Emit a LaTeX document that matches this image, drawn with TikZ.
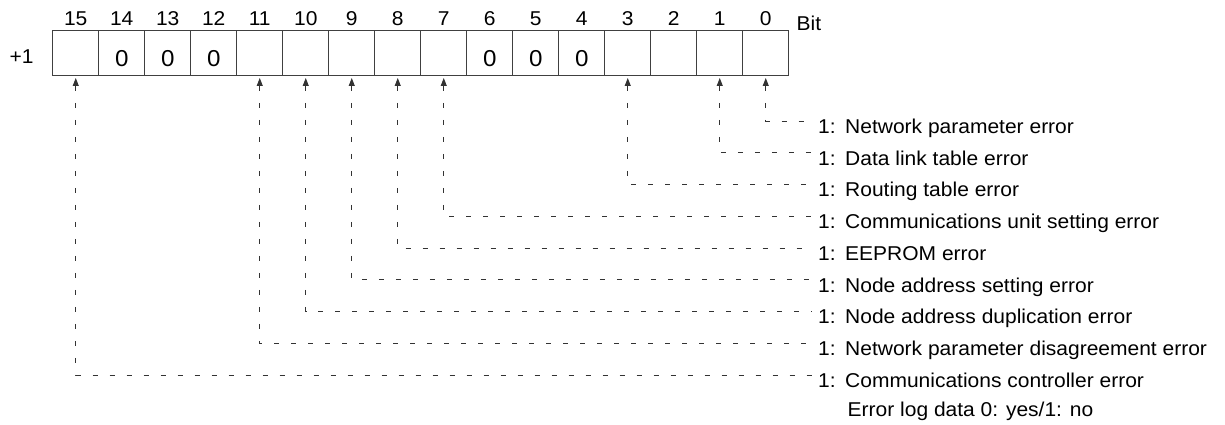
\documentclass[tikz,border=0pt]{standalone}
\usepackage{fontspec}
\setmainfont{Liberation Sans}[FakeStretch=1.05]
\usetikzlibrary{arrows.meta,positioning}

\newcommand{\errflag}{\makebox[27pt][l]{1:}}

\begin{document}
\begin{tikzpicture}[
  x=1pt, y=-1pt,
  every node/.style={font=\fontsize{20}{23}\selectfont, inner sep=0pt},
  cell/.style={draw=black!75, line width=1pt, minimum width=46pt, minimum height=45pt},
  zero/.style={font=\fontsize{23}{26}\selectfont},
  errlabel/.style={anchor=base west},
  sig/.style={draw=black!80, line width=0.9pt, dash pattern=on 5pt off 12pt,
              {Triangle[length=8pt,width=6pt]}-, shorten <=1.5pt}
]
\useasboundingbox (0,0) rectangle (1225,425);

% register word +1, bits 15 ... 0
\node (word) at (21.7,56.7) {+1};
\foreach \b in {0,...,15}{
  \node[cell] (c\b) at ({75.75+46*(15-\b)},53.5) {};
  \node (n\b) at ({75.75+46*(15-\b)},18.5) {\b};
}
\node[anchor=west] (bit) at (796.5,23) {Bit};

% fixed zero bits
\foreach \b in {4,5,6,12,13,14}
  \node[zero] (z\b) at ([yshift=-4.7pt]c\b.center) {0};

% error flags
\foreach \b/\r/\t in {0/0/{Network parameter error},
                      1/1/{Data link table error},
                      3/2/{Routing table error},
                      7/3/{Communications unit setting error},
                      8/4/{EEPROM error},
                      9/5/{Node address setting error},
                      10/6/{Node address duplication error},
                      11/7/{Network parameter disagreement error},
                      15/8/{Communications controller error}}{
  \coordinate (e\b) at (812,{121+31.75*\r});
  \node[errlabel] (l\b) at (818,{133.3+31.75*\r}) {\errflag\t};
  \draw[sig] (c\b.south) |- (e\b);
}
\node[errlabel] (log) at (847.5,416) {Error log data 0: yes/1: no};
\end{tikzpicture}
\end{document}
